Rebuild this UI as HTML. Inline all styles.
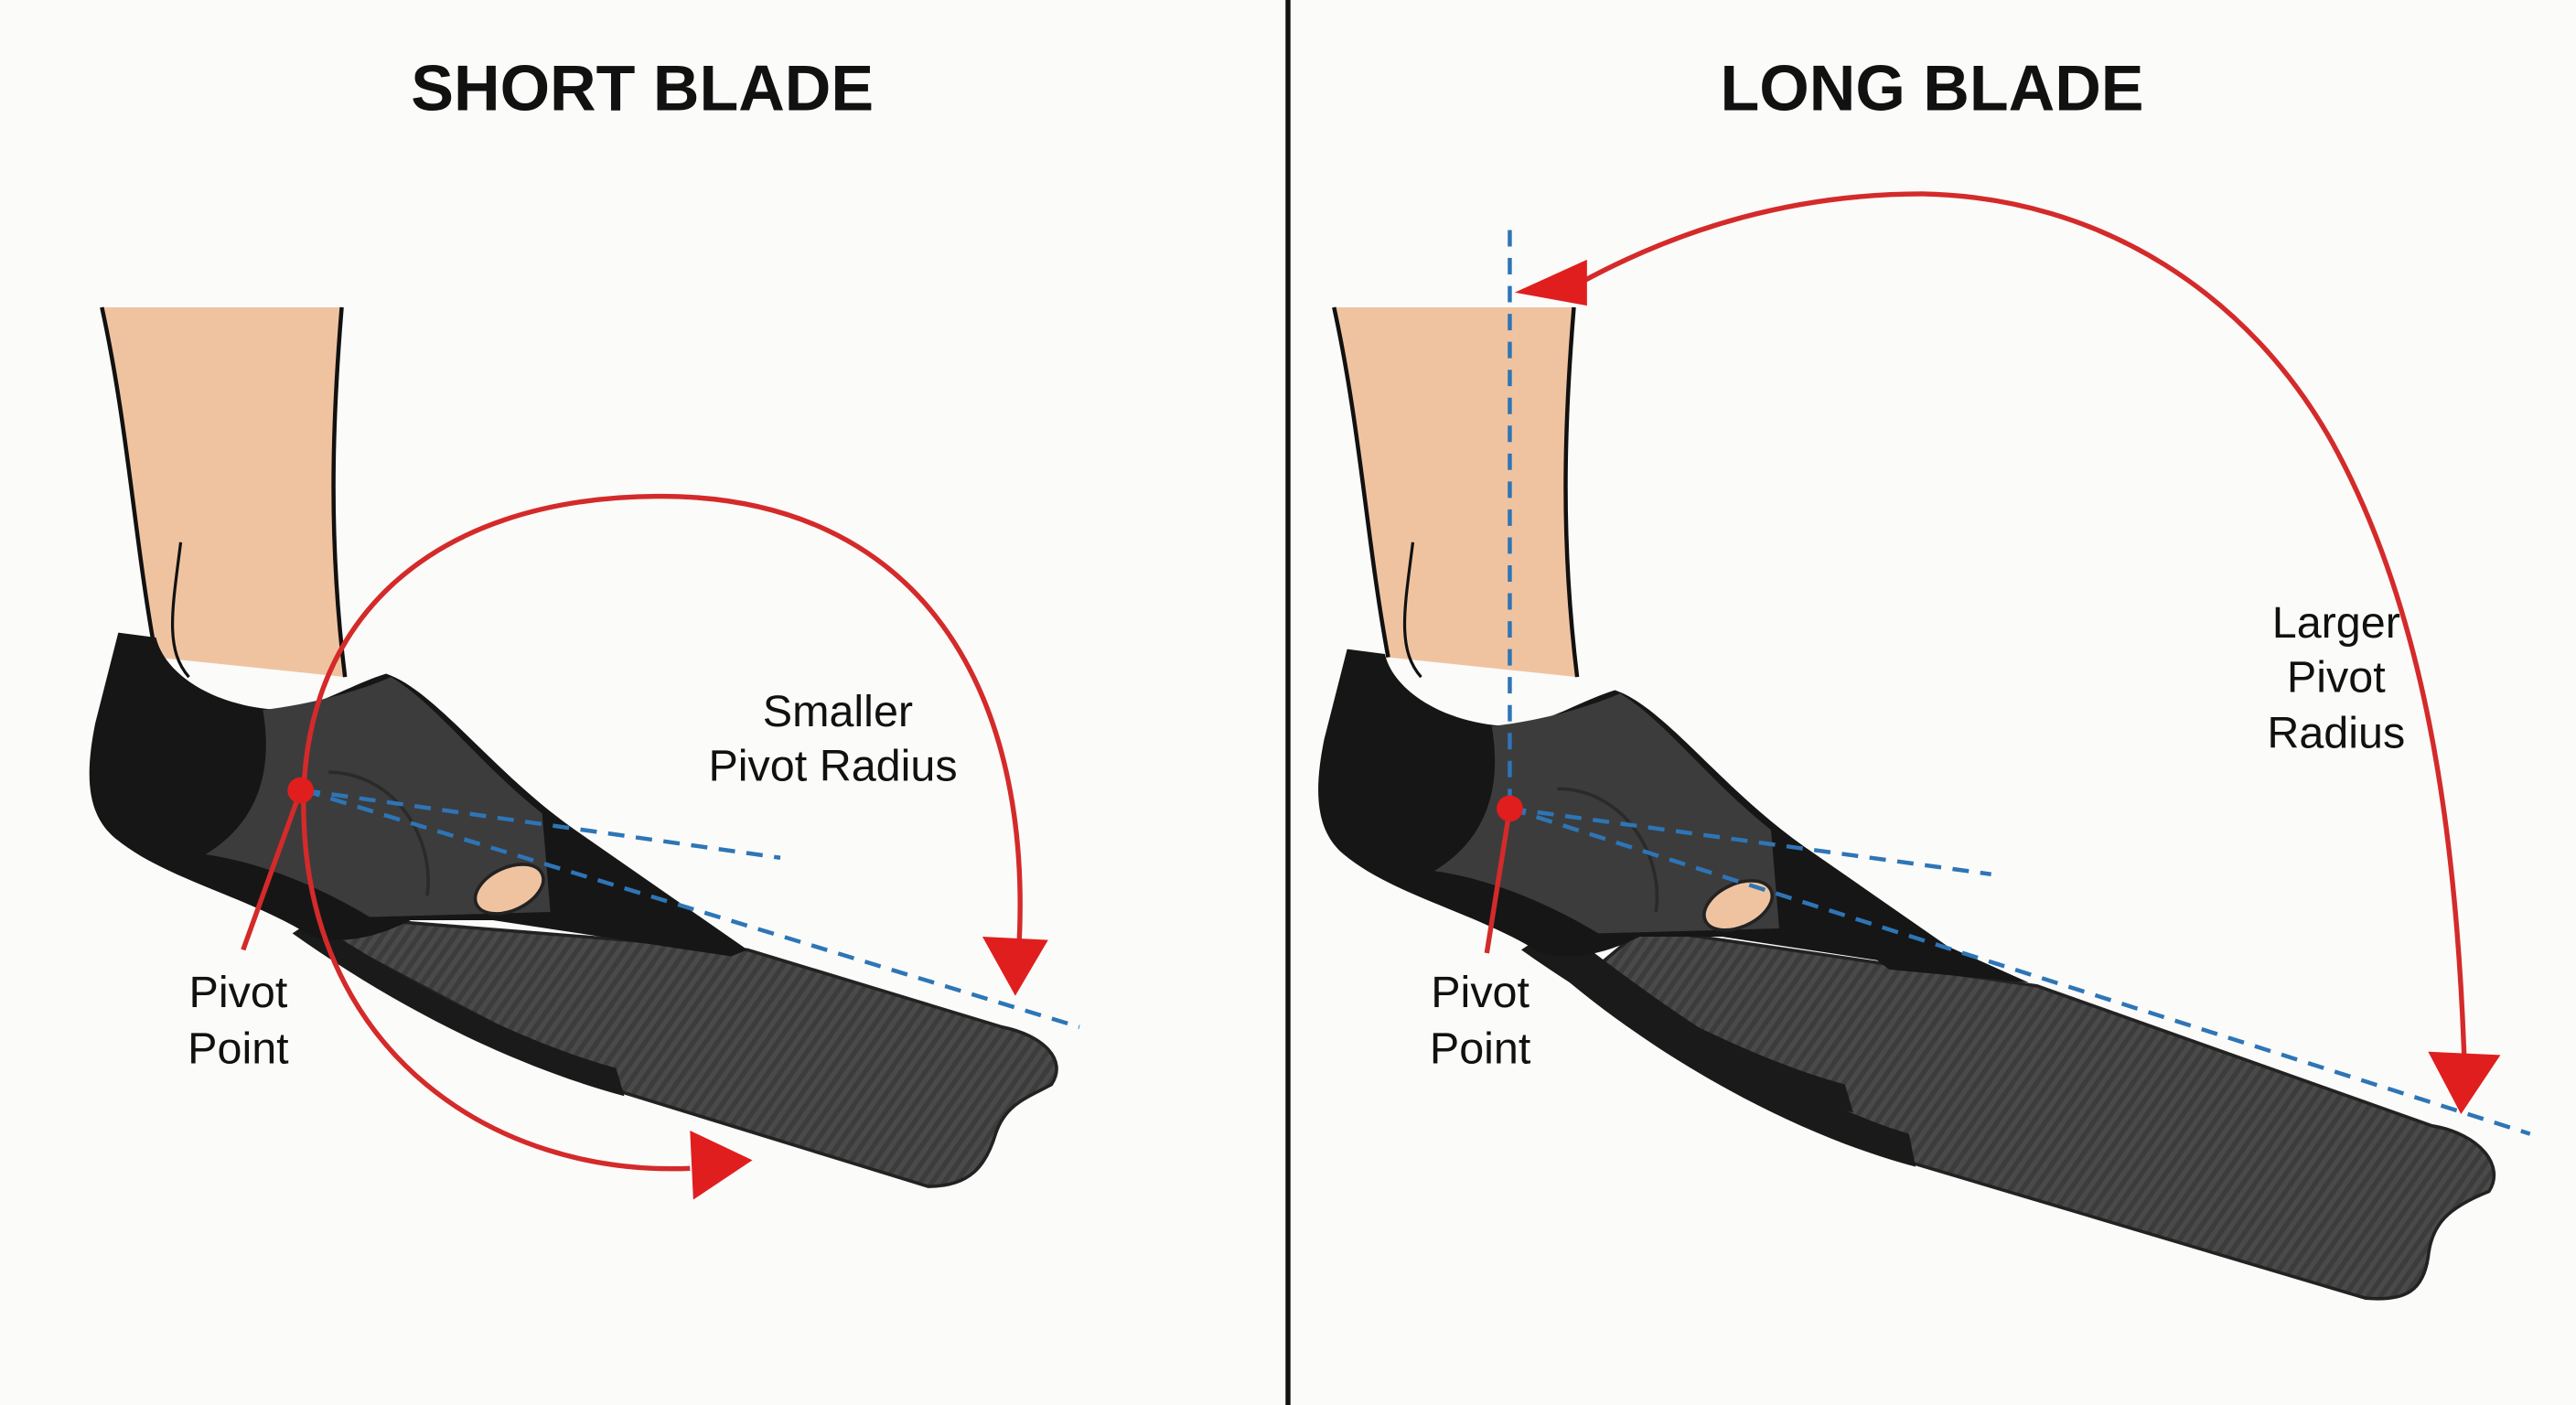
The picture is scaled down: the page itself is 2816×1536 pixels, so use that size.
<!DOCTYPE html>
<html><head><meta charset="utf-8"><style>
html,body{margin:0;padding:0;background:#fbfbf9}
svg{display:block}
text{font-family:"Liberation Sans",sans-serif;fill:#111}
</style></head><body>
<svg width="2816" height="1536" viewBox="0 0 1568 855" preserveAspectRatio="none">
<defs>
<pattern id="cf" width="6" height="6" patternUnits="userSpaceOnUse" patternTransform="rotate(35)">
<rect width="6" height="6" fill="#4a4a4a"/><rect width="3" height="6" fill="#3c3c3c"/>
</pattern>
<g id="leg">
<path d="M62,187 L208,187 C202,260 200,330 210,412 L95,400 C82,330 78,260 62,187 Z" fill="#f0c3a0"/>
<path d="M62,187 C78,260 82,330 95,400 M208,187 C202,260 200,330 210,412" fill="none" stroke="#111" stroke-width="2.5"/>
<path d="M110,330 C105,370 100,395 115,412" fill="none" stroke="#111" stroke-width="1.8"/>
</g>
<g id="pocket">
<path d="M190,560 C250,600 320,635 375,650 L380,667 C310,648 240,612 178,568 Z" fill="#1a1a1a"/>
<path d="M72,385 L95,388 C100,410 130,430 170,432 C195,430 210,418 235,410 C265,420 300,470 350,505 L455,578 L445,582 L300,560 L250,560 C230,570 210,575 190,570 C150,545 100,535 70,510 C52,495 52,470 58,440 Z" fill="#161616"/>
<path d="M160,432 C195,428 225,418 238,412 C265,428 292,465 330,495 L335,555 L225,558 C195,540 160,525 125,520 C150,505 168,478 160,432 Z" fill="#3c3c3c"/>
<path d="M200,470 C240,470 265,510 260,545" fill="none" stroke="#2a2a2a" stroke-width="2"/>
<ellipse cx="310" cy="541" rx="22" ry="13" transform="rotate(-25 310 541)" fill="#f0c3a0" stroke="#222" stroke-width="2"/>
</g>
</defs>
<rect width="1568" height="855" fill="#fbfbf9"/>
<line x1="784" y1="0" x2="784" y2="855" stroke="#111" stroke-width="3"/>
<text x="391" y="67" font-size="39" font-weight="bold" text-anchor="middle">SHORT BLADE</text>
<text x="1176" y="67" font-size="39" font-weight="bold" text-anchor="middle">LONG BLADE</text>

<!-- LEFT -->
<path d="M230,560 L455,578 L610,625 C635,630 650,645 640,660 C625,668 612,672 606,690 C600,710 590,722 565,722 L380,665 L200,570 Z" fill="url(#cf)" stroke="#222" stroke-width="2"/>
<use href="#leg"/>
<use href="#pocket"/>
<g stroke="#2e75b6" stroke-width="2.5" stroke-dasharray="10 7" fill="none">
<line x1="185" y1="481" x2="475" y2="522"/>
<line x1="185" y1="481" x2="657" y2="625"/>
</g>
<g stroke="#d42a2a" stroke-width="3" fill="none">
<path d="M420,711 C300,716 190,640 185,500 C180,380 260,303 400,302 C560,301 630,420 620,580"/>
<line x1="183" y1="481" x2="148" y2="578"/>
</g>
<polygon points="598,570 638,572 618,606" fill="#e01e1e"/>
<polygon points="420,688 422,730 458,706" fill="#e01e1e"/>
<circle cx="183" cy="481" r="8" fill="#e01e1e"/>
<text x="145" y="613" font-size="27" text-anchor="middle">Pivot</text>
<text x="145" y="647" font-size="27" text-anchor="middle">Point</text>
<text x="510" y="442" font-size="27" text-anchor="middle">Smaller</text>
<text x="507" y="475" font-size="27" text-anchor="middle">Pivot Radius</text>

<!-- RIGHT -->
<path d="M1000,565 L1240,600 L1480,685 C1510,690 1525,710 1515,725 C1490,735 1480,745 1478,765 C1475,785 1465,792 1440,790 L1165,708 L970,590 Z" fill="url(#cf)" stroke="#222" stroke-width="2"/>
<path d="M945,560 C1020,620 1100,672 1162,690 L1166,710 C1090,690 1000,640 935,580 Z" fill="#1a1a1a"/>
<g transform="translate(750,0)"><use href="#leg"/></g>
<g transform="translate(748,10)"><use href="#pocket"/></g>
<path d="M1085,540 L1150,560 L1235,598 L1150,590 Z" fill="#161616"/>
<g stroke="#2e75b6" stroke-width="2.5" stroke-dasharray="10 7" fill="none">
<line x1="919" y1="140" x2="919" y2="492"/>
<line x1="919" y1="492" x2="1212" y2="532"/>
<line x1="919" y1="492" x2="1540" y2="690"/>
</g>
<g stroke="#d42a2a" stroke-width="3" fill="none">
<path d="M962,172 C1030,135 1100,118 1170,118 C1280,120 1370,180 1420,270 C1475,370 1495,500 1500,645"/>
<line x1="919" y1="492" x2="905" y2="580"/>
</g>
<polygon points="922,178 966,158 966,186" fill="#e01e1e"/>
<polygon points="1478,640 1522,642 1498,678" fill="#e01e1e"/>
<circle cx="919" cy="492" r="8" fill="#e01e1e"/>
<text x="901" y="613" font-size="27" text-anchor="middle">Pivot</text>
<text x="901" y="647" font-size="27" text-anchor="middle">Point</text>
<text x="1422" y="388" font-size="27" text-anchor="middle">Larger</text>
<text x="1422" y="421" font-size="27" text-anchor="middle">Pivot</text>
<text x="1422" y="455" font-size="27" text-anchor="middle">Radius</text>
</svg>
</body></html>
